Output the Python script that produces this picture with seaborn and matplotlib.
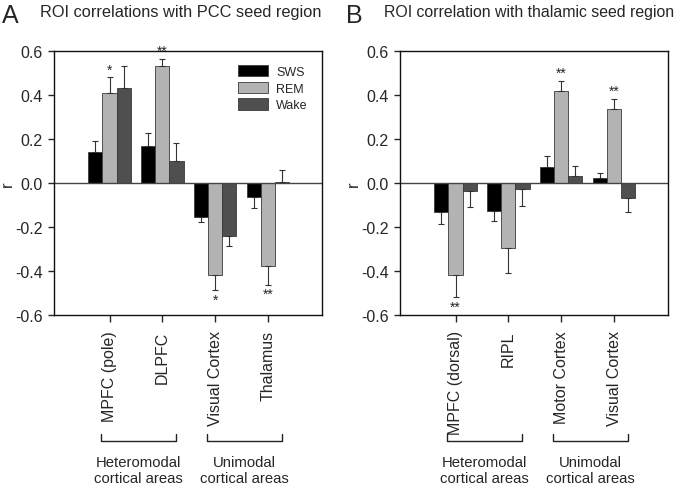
import matplotlib
matplotlib.use("Agg")
import matplotlib.pyplot as plt
import matplotlib.transforms as mtransforms
import pandas as pd
import seaborn as sns

# values
states = ["SWS", "REM", "Wake"]
state_colors = ["#000000", "#b3b3b3", "#4f4f4f"]

regions_a = ["MPFC (pole)", "DLPFC", "Visual Cortex", "Thalamus"]
sws_a = [0.14, 0.167, -0.153, -0.064]
rem_a = [0.41, 0.533, -0.417, -0.376]
wake_a = [0.43, 0.10, -0.241, 0.003]
sws_err_a = [0.05, 0.06, 0.026, 0.05]
rem_err_a = [0.07, 0.03, 0.07, 0.086]
wake_err_a = [0.10, 0.08, 0.045, 0.056]
stars_a = ["*", "**", "*", "**"]  # REM bars

regions_b = ["MPFC (dorsal)", "RIPL", "Motor Cortex", "Visual Cortex"]
sws_b = [-0.133, -0.127, 0.074, 0.021]
rem_b = [-0.417, -0.297, 0.42, 0.335]
wake_b = [-0.038, -0.027, 0.030, -0.068]
sws_err_b = [0.055, 0.047, 0.047, 0.023]
rem_err_b = [0.10, 0.113, 0.045, 0.047]
wake_err_b = [0.072, 0.079, 0.049, 0.065]
stars_b = ["**", "", "**", "**"]

groups = ["Heteromodal\ncortical areas", "Unimodal\ncortical areas"]

sns.set_style("ticks")
plt.rcParams["font.family"] = ["Liberation Sans", "DejaVu Sans"]
plt.rcParams["axes.unicode_minus"] = False

fig = plt.figure(figsize=(6.8, 4.89), dpi=100)
ax_a = fig.add_axes([54 / 680, 1 - 316 / 489, 268 / 680, 264 / 489])
ax_b = fig.add_axes([400 / 680, 1 - 316 / 489, 268 / 680, 264 / 489])


def draw_panel(ax, regions, vals, errs, stars, show_legend):
    rows = []
    for s, v in zip(states, vals):
        for reg, x in zip(regions, v):
            rows.append({"region": reg, "state": s, "r": x})
    df = pd.DataFrame(rows)
    sns.barplot(data=df, x="region", y="r", hue="state", order=regions,
                hue_order=states, palette=state_colors, errorbar=None,
                width=0.8, edgecolor="#3a3a3a", linewidth=0.6,
                saturation=1, legend=show_legend, ax=ax)
    bar_conts = list(ax.containers)

    # one-sided error bars, away from zero
    for j, cont in enumerate(bar_conts):
        for i, bar in enumerate(cont.patches):
            xc = bar.get_x() + bar.get_width() / 2
            v, e = vals[j][i], errs[j][i]
            yerr = [[0], [e]] if v >= 0 else [[e], [0]]
            ax.errorbar([xc], [v], yerr=yerr, fmt="none", ecolor="#333333",
                        elinewidth=0.8, capsize=2.5, capthick=0.8)
            if j == 1 and stars[i]:
                if v >= 0:
                    ax.text(xc, v + e + 0.005, stars[i], ha="center",
                            va="bottom", fontsize=10)
                else:
                    ax.text(xc, v - e - 0.012, stars[i], ha="center",
                            va="top", fontsize=10)

    ax.axhline(0, color="#444444", lw=1, zorder=1)
    ax.set_ylim(-0.6, 0.6)
    ax.set_xlim(-1.05, 4.02)
    ax.set_yticks([-0.6, -0.4, -0.2, 0.0, 0.2, 0.4, 0.6])
    ax.set_yticklabels(["-0.6", "-0.4", "-0.2", "0.0", "0.2", "0.4", "0.6"])
    ax.set_xticks(range(len(regions)))
    ax.set_xticklabels(regions, rotation=90, va="top", ha="center")
    ax.tick_params(axis="x", length=5, pad=6, labelsize=11.5, width=1)
    ax.tick_params(axis="y", length=4, pad=4, labelsize=11.5, width=1)
    ax.set_xlabel("")
    ax.set_ylabel("r", fontsize=12, labelpad=0)
    for sp in ax.spines.values():
        sp.set_visible(True)
        sp.set_linewidth(1)
        sp.set_color("#111111")

    # brackets and group labels below the tick labels
    trans = mtransforms.blended_transform_factory(ax.transData, fig.transFigure)
    y_top = 1 - 435 / 489
    y_bot = 1 - 442 / 489
    for (x0, x1), g in zip([(-0.17, 1.26), (1.85, 3.26)], groups):
        ax.plot([x0, x0, x1, x1], [y_top, y_bot, y_bot, y_top], color="#222222",
                lw=1, transform=trans, clip_on=False)
        ax.text((x0 + x1) / 2, 1 - 456 / 489, g, transform=trans, ha="center",
                va="top", fontsize=10.7, linespacing=1.15)

    if show_legend:
        handles, labels = ax.get_legend_handles_labels()
        ax.legend(handles, labels, loc="upper left", bbox_to_anchor=(0.665, 0.97),
                  frameon=False, borderpad=0, fontsize=9, handlelength=2.4,
                  handleheight=1.0, labelspacing=0.3, handletextpad=0.6)


draw_panel(ax_a, regions_a, [sws_a, rem_a, wake_a],
           [sws_err_a, rem_err_a, wake_err_a], stars_a, True)
draw_panel(ax_b, regions_b, [sws_b, rem_b, wake_b],
           [sws_err_b, rem_err_b, wake_err_b], stars_b, False)

fig.text(2 / 680, 1 - 16 / 489, "A", fontsize=18, va="center", ha="left")
fig.text(40 / 680, 1 - 12 / 489, "ROI correlations with PCC seed region",
         fontsize=11.8, va="center", ha="left")
fig.text(346 / 680, 1 - 16 / 489, "B", fontsize=18, va="center", ha="left")
fig.text(384 / 680, 1 - 12 / 489, "ROI correlation with thalamic seed region",
         fontsize=11.4, va="center", ha="left")

fig.savefig("out.png", dpi=100)
